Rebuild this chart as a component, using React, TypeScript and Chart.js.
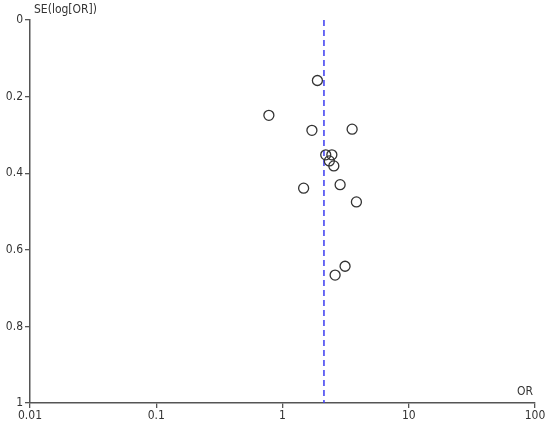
import React, { useEffect, useRef } from "react";
import { Chart, registerables } from "chart.js";

Chart.register(...registerables);

const orValues = [1.89, 0.78, 1.71, 3.56, 2.2, 2.46, 2.35, 2.55, 1.47, 2.86, 3.85, 3.13, 2.61];
const seValues = [0.158, 0.249, 0.288, 0.285, 0.352, 0.352, 0.368, 0.381, 0.439, 0.43, 0.475, 0.643, 0.666];
const pooledOR = 2.13;
const xTicks = [0.01, 0.1, 1, 10, 100];
const yTicks = [0, 0.2, 0.4, 0.6, 0.8, 1];
const xTitle = "OR";
const yTitle = "SE(log[OR])";

const FONT = "'DejaVu Sans Condensed', 'DejaVu Sans', sans-serif";

export default function App() {
  const ref = useRef<HTMLCanvasElement | null>(null);
  useEffect(() => {
    if (!ref.current) return;
    const titles = {
      id: "titles",
      afterDraw(chart: any) {
        const ctx = chart.ctx;
        const xs = chart.scales.x;
        const ys = chart.scales.y;
        ctx.save();
        ctx.fillStyle = "#333";
        ctx.font = `12px ${FONT}`;
        ctx.textBaseline = "middle";
        ctx.textAlign = "left";
        ctx.fillText(yTitle, ys.right + 4, ys.top - 10);
        ctx.textAlign = "right";
        ctx.fillText(xTitle, xs.right - 2, xs.top - 11);
        ctx.restore();
      },
    };
    const chart = new Chart(ref.current, {
      type: "scatter",
      data: {
        datasets: [
          {
            type: "scatter",
            data: orValues.map((v, i) => ({ x: v, y: seValues[i] })),
            pointRadius: 5,
            pointBorderWidth: 1.3,
            pointBorderColor: "#333",
            pointBackgroundColor: "rgba(0,0,0,0)",
            order: 1,
          },
          {
            type: "line",
            data: [
              { x: pooledOR, y: 0 },
              { x: pooledOR, y: 1 },
            ],
            borderColor: "#3c3cf0",
            borderWidth: 1.5,
            borderDash: [6, 4],
            pointRadius: 0,
            fill: false,
            order: 2,
          } as any,
        ],
      },
      plugins: [titles],
      options: {
        animation: false,
        responsive: false,
        maintainAspectRatio: false,
        layout: { padding: { top: 20, right: 15, left: 0, bottom: 0 } },
        plugins: { legend: { display: false }, tooltip: { enabled: false } },
        scales: {
          x: {
            type: "logarithmic",
            min: 0.01,
            max: 100,
            afterBuildTicks: (s: any) => {
              s.ticks = xTicks.map((v) => ({ value: v }));
            },
            afterFit: (s: any) => {
              s.height = 23;
            },
            ticks: {
              autoSkip: false,
              maxRotation: 0,
              padding: 1,
              color: "#333",
              font: { size: 12, family: FONT },
              callback: (v: any) => String(v),
            },
            grid: { display: true, drawOnChartArea: false, drawTicks: true, tickLength: 5, color: "#555", lineWidth: 1.3 },
            border: { display: true, color: "#555", width: 1.5 },
          },
          y: {
            type: "linear",
            min: 0,
            max: 1,
            reverse: true,
            afterBuildTicks: (s: any) => {
              s.ticks = yTicks.map((v) => ({ value: v }));
            },
            afterFit: (s: any) => {
              s.width = 30;
            },
            ticks: {
              autoSkip: false,
              padding: 2,
              color: "#333",
              font: { size: 12, family: FONT },
              callback: (v: any) => String(Math.round(v * 10) / 10),
            },
            grid: { display: true, drawOnChartArea: false, drawTicks: true, tickLength: 5, color: "#555", lineWidth: 1.3 },
            border: { display: true, color: "#555", width: 1.5 },
          },
        },
      },
    });
    return () => chart.destroy();
  }, []);
  return (
    <div style={{ position: "absolute", left: 0, top: 0, width: 550, height: 426, background: "#fff" }}>
      <canvas ref={ref} width={550} height={426} style={{ width: 550, height: 426 }} />
    </div>
  );
}
